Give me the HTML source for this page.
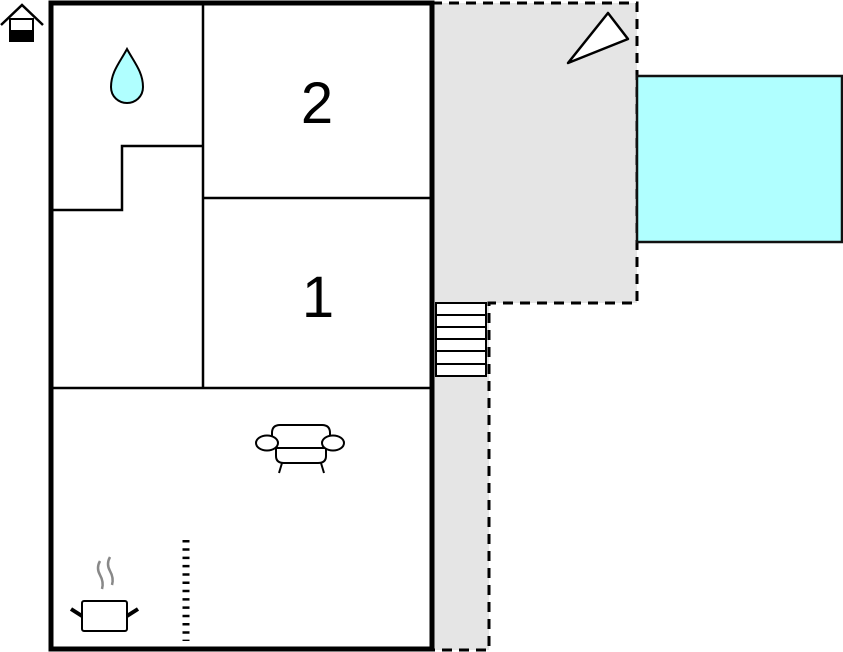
<!DOCTYPE html>
<html><head><style>html,body{margin:0;padding:0;background:#fff}svg{display:block}</style></head>
<body>
<svg width="843" height="652" viewBox="0 0 843 652" xmlns="http://www.w3.org/2000/svg">
<path d="M432 3 H637 V303 H489 V650 H432 Z" fill="#e5e5e5"/>
<path d="M432 3 H637 V303 H489 V650 H432" fill="none" stroke="#000" stroke-width="3" stroke-dasharray="10,7"/>
<rect x="637" y="76" width="205" height="166" fill="#b0ffff" stroke="#111" stroke-width="2.5"/>
<polygon points="568,63 608,13 628,39" fill="#fff" stroke="#000" stroke-width="2.5" stroke-linejoin="round"/>
<g fill="#fff" stroke="#000" stroke-width="2">
<rect x="436" y="303" width="50" height="73"/>
<line x1="436" y1="315" x2="486" y2="315"/><line x1="436" y1="327" x2="486" y2="327"/>
<line x1="436" y1="339" x2="486" y2="339"/><line x1="436" y1="351" x2="486" y2="351"/>
<line x1="436" y1="364" x2="486" y2="364"/>
</g>
<rect x="51" y="3" width="381" height="646" fill="#fff" stroke="#000" stroke-width="5"/>
<g stroke="#000" stroke-width="2.5" fill="none">
<line x1="203" y1="3" x2="203" y2="388"/>
<line x1="203" y1="198" x2="432" y2="198"/>
<line x1="51" y1="388" x2="432" y2="388"/>
<polyline points="51,210 122,210 122,146 203,146"/>
</g>
<text x="317" y="123" font-family="Liberation Sans, sans-serif" font-size="58" text-anchor="middle">2</text>
<text x="318" y="317" font-family="Liberation Sans, sans-serif" font-size="58" text-anchor="middle">1</text>
<path d="M127 49 C120 62 111 72 111 87 C111 97 119 103 127 103 C135 103 143 97 143 87 C143 72 134 62 127 49 Z" fill="#b0ffff" stroke="#000" stroke-width="2"/>
<polyline points="1,25 22,5 43,25" fill="none" stroke="#000" stroke-width="2.5"/>
<rect x="10" y="19" width="23" height="22" fill="#fff" stroke="#000" stroke-width="2"/>
<rect x="10" y="30" width="23" height="12" fill="#000"/>
<g fill="#fff" stroke="#000" stroke-width="2">
<path d="M272 448 V433 Q272 425 280 425 H322 Q330 425 330 433 V448"/>
<path d="M276 448 V456 Q276 463 284 463 H318 Q326 463 326 456 V448"/>
<line x1="270" y1="448" x2="332" y2="448"/>
<ellipse cx="267" cy="443" rx="11" ry="7.5"/>
<ellipse cx="333" cy="443" rx="11" ry="7.5"/>
<line x1="282" y1="463" x2="279" y2="473"/>
<line x1="321" y1="463" x2="324" y2="473"/>
</g>
<line x1="186" y1="540" x2="186" y2="641" stroke="#000" stroke-width="7" stroke-dasharray="2.5,5.8"/>
<rect x="82" y="601" width="45" height="30" rx="2" fill="#fff" stroke="#000" stroke-width="2"/>
<line x1="71" y1="609" x2="82" y2="616" stroke="#000" stroke-width="4"/>
<line x1="138" y1="609" x2="127" y2="616" stroke="#000" stroke-width="4"/>
<path d="M100 561 Q96 568 100 575 Q104 582 102 589" fill="none" stroke="#888" stroke-width="2.5"/>
<path d="M110 557 Q106 564 110 571 Q114 578 112 585" fill="none" stroke="#888" stroke-width="2.5"/>
</svg>
</body></html>
